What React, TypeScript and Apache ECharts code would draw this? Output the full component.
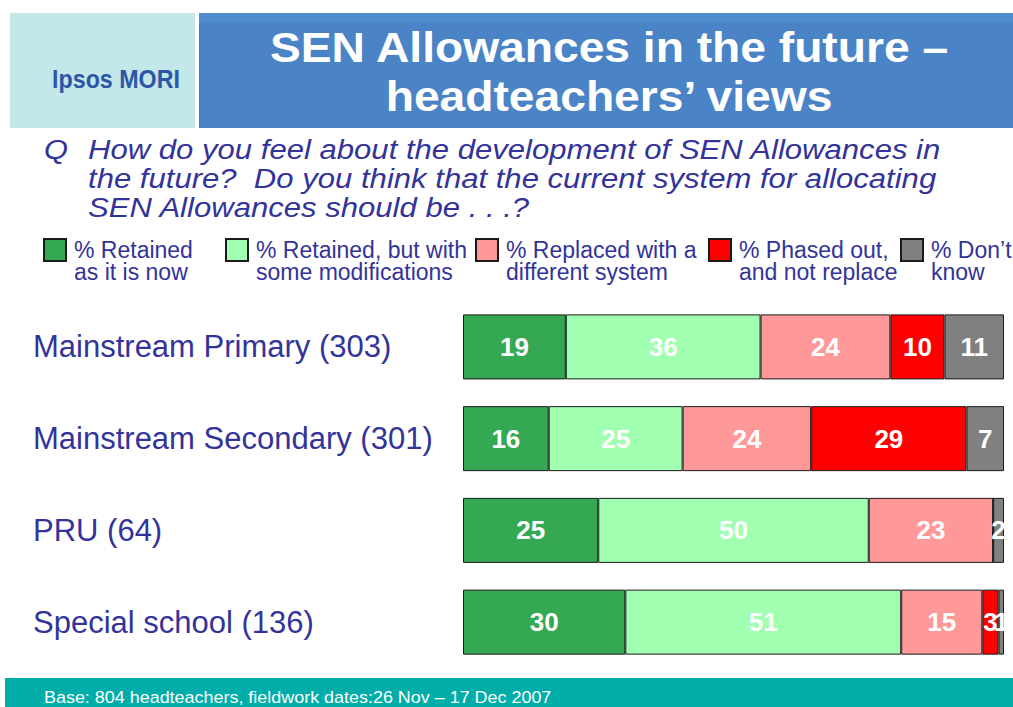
import React, { useEffect, useRef } from "react";
import * as echarts from "echarts";

const categories = [
  "Mainstream Primary (303)",
  "Mainstream Secondary (301)",
  "PRU (64)",
  "Special school (136)",
];
const seriesNames = [
  "% Retained\nas it is now",
  "% Retained, but with\nsome modifications",
  "% Replaced with a\ndifferent system",
  "% Phased out,\nand not replace",
  "% Don’t\nknow",
];
const retained = [19, 16, 25, 30];
const retainedModified = [36, 25, 50, 51];
const replaced = [24, 24, 23, 15];
const phasedOut = [10, 29, 0, 3];
const dontKnow = [11, 7, 2, 1];
const seriesValues = [retained, retainedModified, replaced, phasedOut, dontKnow];
const colors = ["#35A853", "#A0FFB0", "#FF9999", "#FF0000", "#808080"];
const legendLeft = [43, 225, 475, 708, 900];

const title = "SEN Allowances in the future –\nheadteachers’ views";
const question =
  "How do you feel about the development of SEN Allowances in\nthe future?  Do you think that the current system for allocating\nSEN Allowances should be . . .?";
const footer = "Base: 804 headteachers, fieldwork dates:26 Nov – 17 Dec 2007";

const FONT = "'Liberation Sans', Arial, sans-serif";
const TEXT_BLUE = "#333399";
// square swatch in the top half of a 22x44 box (the trailing point only widens the bounds)
const LEGEND_ICON = "path://M0,0L22,0L22,22L0,22Z M0,44L0,44";

export default function App() {
  const ref = useRef<HTMLDivElement>(null);
  useEffect(() => {
    if (!ref.current) return;
    const chart = echarts.init(ref.current, null, { renderer: "svg" });
    const totals = categories.map((_, i) =>
      seriesValues.reduce((s, arr) => s + arr[i], 0)
    );
    const series = seriesValues.map((arr, si) => ({
      type: "bar",
      name: seriesNames[si],
      stack: "total",
      barWidth: 65,
      itemStyle: { color: colors[si], borderColor: "#1a1a1a", borderWidth: 1 },
      label: {
        show: true,
        position: "inside",
        color: "#fff",
        fontFamily: FONT,
        fontWeight: "bold",
        fontSize: 26,
        formatter: (p: any) => (p.data.raw ? String(p.data.raw) : ""),
      },
      data: arr.map((v, i) => ({ value: (v / totals[i]) * 100, raw: v })),
    }));
    chart.setOption({
      animation: false,
      backgroundColor: "#fff",
      textStyle: { fontFamily: FONT },
      grid: { left: 463, right: 9, top: 301, bottom: 39 },
      xAxis: { type: "value", min: 0, max: 100, show: false },
      yAxis: {
        type: "category",
        inverse: true,
        data: categories,
        axisLine: { show: false },
        axisTick: { show: false },
        axisLabel: {
          align: "left",
          margin: 430,
          color: TEXT_BLUE,
          fontSize: 31,
          fontFamily: FONT,
          padding: [10, 0, 0, 0],
        },
      },
      legend: seriesNames.map((n, i) => ({
        data: [n],
        left: legendLeft[i],
        top: 238,
        padding: 0,
        itemWidth: 22,
        itemHeight: 44,
        icon: LEGEND_ICON,
        selectedMode: false,
        textStyle: {
          fontSize: 23,
          lineHeight: 22,
          color: TEXT_BLUE,
          fontFamily: FONT,
          padding: [0, 0, 0, 3],
        },
      })),
      series,
      graphic: [
        { type: "rect", shape: { x: 10, y: 13, width: 185, height: 115 }, style: { fill: "#C4E7EA" } },
        { type: "rect", shape: { x: 199, y: 13, width: 814, height: 115 }, style: { fill: "#4A84C6" } },
        { type: "rect", shape: { x: 199, y: 13, width: 814, height: 9 }, style: { fill: "#508BCC" } },
        {
          type: "text",
          x: 116,
          y: 79,
          scaleX: 0.93,
          style: {
            text: "Ipsos MORI",
            font: `bold 25px ${FONT}`,
            fill: "#2D57A5",
            align: "center",
            verticalAlign: "middle",
          },
        },
        {
          type: "text",
          x: 609,
          y: 72,
          scaleX: 1.1,
          style: {
            text: title,
            font: `bold 42px ${FONT}`,
            lineHeight: 49,
            fill: "#fff",
            align: "center",
            verticalAlign: "middle",
          },
        },
        {
          type: "text",
          x: 44,
          y: 135,
          scaleX: 1.1,
          style: { text: "Q", font: `italic 28px ${FONT}`, fill: TEXT_BLUE },
        },
        {
          type: "text",
          x: 88,
          y: 135,
          scaleX: 1.11,
          style: { text: question, font: `italic 28px ${FONT}`, lineHeight: 29, fill: TEXT_BLUE },
        },
        { type: "rect", shape: { x: 5, y: 678, width: 1008, height: 29 }, style: { fill: "#00ADA9" } },
        {
          type: "text",
          x: 44,
          y: 697,
          scaleX: 1.055,
          style: { text: footer, font: `17px ${FONT}`, fill: "#fff", verticalAlign: "middle" },
        },
      ],
    });
    return () => chart.dispose();
  }, []);
  return (
    <div
      ref={ref}
      style={{ position: "absolute", left: 0, top: 0, width: 1013, height: 707 }}
    />
  );
}
